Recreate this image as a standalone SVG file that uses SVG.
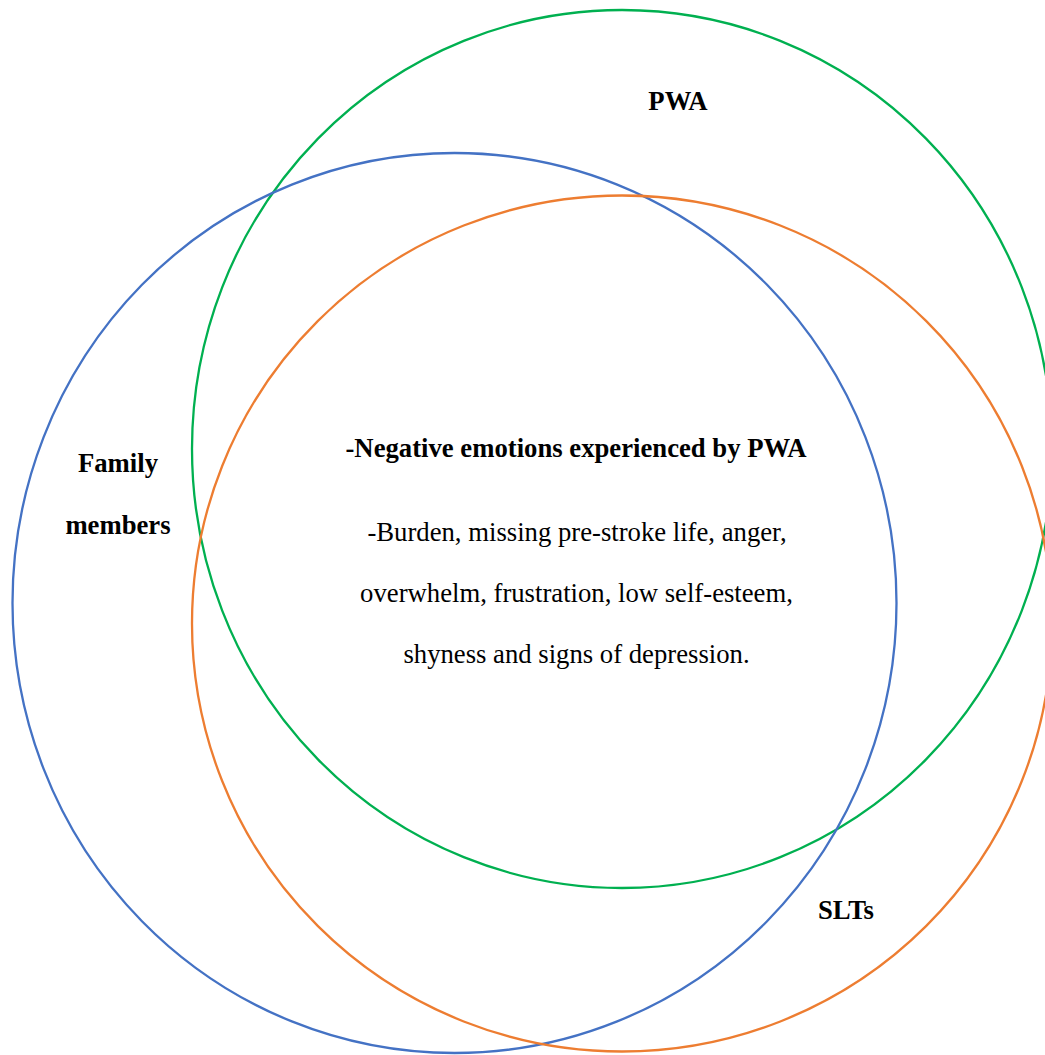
<svg xmlns="http://www.w3.org/2000/svg" width="1045" height="1055" viewBox="0 0 1045 1055">
  <style>
    .ring { fill: none; stroke-width: 2.3; }
    .label { font-family: "Liberation Serif", "Times New Roman", serif; font-size: 26.7px; font-weight: bold; fill: #000; text-anchor: middle; }
    .body { font-family: "Liberation Serif", "Times New Roman", serif; font-size: 26.7px; fill: #000; text-anchor: middle; }
  </style>
  <rect width="1045" height="1055" fill="#fff"/>
  <!-- the three overlapping sets -->
  <g id="set-pwa">
    <ellipse class="ring" cx="622" cy="449" rx="430" ry="439" stroke="#00B050"/>
    <text class="label" x="678" y="110">PWA</text>
  </g>
  <g id="set-family">
    <ellipse class="ring" cx="454.5" cy="603" rx="442" ry="450" stroke="#4472C4"/>
    <text class="label" x="118" y="472">Family</text>
    <text class="label" x="118" y="534">members</text>
  </g>
  <g id="set-slts">
    <ellipse class="ring" cx="622" cy="623.5" rx="430" ry="428" stroke="#ED7D31"/>
    <text class="label" x="846" y="919">SLTs</text>
  </g>
  <!-- shared centre: common theme -->
  <g id="theme">
    <text class="label" x="576" y="457">-Negative emotions experienced by PWA</text>
    <text class="body" x="577" y="541">-Burden, missing pre-stroke life, anger,</text>
    <text class="body" x="576.5" y="602">overwhelm, frustration, low self-esteem,</text>
    <text class="body" x="576.5" y="663">shyness and signs of depression.</text>
  </g>
  <g id="connectors"/>
</svg>
